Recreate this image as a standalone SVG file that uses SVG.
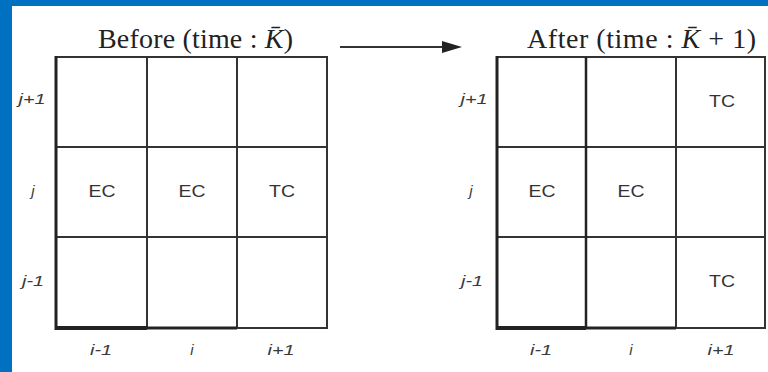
<svg xmlns="http://www.w3.org/2000/svg" width="768" height="372" viewBox="0 0 768 372">
<style>
.cell{fill:#fff;stroke:#333;stroke-width:2}
.lab{font-family:"Liberation Sans",Arial,sans-serif;font-size:16px;fill:#333;text-anchor:middle}
.idx{font-family:"Liberation Sans",Arial,sans-serif;font-style:italic;font-size:15px;fill:#3a3a3a;text-anchor:middle}
.title{font-family:"Liberation Serif","Times New Roman",serif;font-size:28px;fill:#222}
.conn{stroke:#333;stroke-width:2;fill:none}
</style>
<rect x="0" y="0" width="768" height="372" fill="#fff"/>
<rect x="0" y="0" width="768" height="6" fill="#0070C0"/>
<rect x="0" y="0" width="12" height="372" fill="#0070C0"/>

<g id="title-before"><text class="title" x="98" y="48" textLength="195">Before (time : <tspan font-style="italic">K̄</tspan>)</text></g>
<g id="title-after"><text class="title" x="527" y="48" textLength="229">After (time : <tspan font-style="italic">K̄</tspan> + 1)</text></g>

<g id="connectors">
<line x1="340" y1="47" x2="442" y2="47" class="conn"/>
<path d="M442,41 L462,47 L442,53 Z" fill="#222"/>
</g>

<g id="grid-before">
<g id="b-c11"><rect class="cell" x="56" y="57" width="91" height="90"/></g>
<g id="b-c21"><rect class="cell" x="147" y="57" width="90" height="90"/></g>
<g id="b-c31"><rect class="cell" x="237" y="57" width="90" height="90"/></g>
<g id="b-c12"><rect class="cell" x="56" y="147" width="91" height="90"/><text class="lab" x="102" y="197" textLength="27" lengthAdjust="spacingAndGlyphs">EC</text></g>
<g id="b-c22"><rect class="cell" x="147" y="147" width="90" height="90"/><text class="lab" x="192" y="197" textLength="27" lengthAdjust="spacingAndGlyphs">EC</text></g>
<g id="b-c32"><rect class="cell" x="237" y="147" width="90" height="90"/><text class="lab" x="282" y="197" textLength="26" lengthAdjust="spacingAndGlyphs">TC</text></g>
<g id="b-c13"><rect class="cell" x="56" y="237" width="91" height="91"/></g>
<g id="b-c23"><rect class="cell" x="147" y="237" width="90" height="91"/></g>
<g id="b-c33"><rect class="cell" x="237" y="237" width="90" height="91"/></g>
<line x1="56" y1="56" x2="56" y2="330" stroke="#222" stroke-width="3"/>
<line x1="55" y1="328" x2="147" y2="328" stroke="#222" stroke-width="4"/>
<line x1="147" y1="328" x2="237" y2="328" stroke="#222" stroke-width="3"/>
<text class="idx" x="32" y="104" textLength="27" lengthAdjust="spacingAndGlyphs">j+1</text>
<text class="idx" x="33" y="196">j</text>
<text class="idx" x="33" y="286" textLength="22" lengthAdjust="spacingAndGlyphs">j-1</text>
<text class="idx" x="101" y="355" textLength="22" lengthAdjust="spacingAndGlyphs">i-1</text>
<text class="idx" x="192" y="355">i</text>
<text class="idx" x="281" y="355" textLength="27" lengthAdjust="spacingAndGlyphs">i+1</text>
</g>

<g id="grid-after">
<g id="a-c11"><rect class="cell" x="497" y="57" width="89" height="90"/></g>
<g id="a-c21"><rect class="cell" x="586" y="57" width="90" height="90"/></g>
<g id="a-c31"><rect class="cell" x="676" y="57" width="89" height="90"/><text class="lab" x="722" y="107" textLength="26" lengthAdjust="spacingAndGlyphs">TC</text></g>
<g id="a-c12"><rect class="cell" x="497" y="147" width="89" height="90"/><text class="lab" x="542" y="197" textLength="27" lengthAdjust="spacingAndGlyphs">EC</text></g>
<g id="a-c22"><rect class="cell" x="586" y="147" width="90" height="90"/><text class="lab" x="631" y="197" textLength="27" lengthAdjust="spacingAndGlyphs">EC</text></g>
<g id="a-c32"><rect class="cell" x="676" y="147" width="89" height="90"/></g>
<g id="a-c13"><rect class="cell" x="497" y="237" width="89" height="91"/></g>
<g id="a-c23"><rect class="cell" x="586" y="237" width="90" height="91"/></g>
<g id="a-c33"><rect class="cell" x="676" y="237" width="89" height="91"/><text class="lab" x="722" y="287" textLength="26" lengthAdjust="spacingAndGlyphs">TC</text></g>
<line x1="497" y1="56" x2="497" y2="330" stroke="#222" stroke-width="3"/>
<line x1="586" y1="57" x2="586" y2="329" stroke="#222" stroke-width="2.5"/>
<line x1="496" y1="328" x2="586" y2="328" stroke="#222" stroke-width="4"/>
<line x1="586" y1="328" x2="676" y2="328" stroke="#222" stroke-width="3"/>
<text class="idx" x="474" y="104" textLength="27" lengthAdjust="spacingAndGlyphs">j+1</text>
<text class="idx" x="471" y="196">j</text>
<text class="idx" x="472" y="286" textLength="22" lengthAdjust="spacingAndGlyphs">j-1</text>
<text class="idx" x="541" y="355" textLength="22" lengthAdjust="spacingAndGlyphs">i-1</text>
<text class="idx" x="631" y="355">i</text>
<text class="idx" x="721" y="355" textLength="27" lengthAdjust="spacingAndGlyphs">i+1</text>
</g>
</svg>
